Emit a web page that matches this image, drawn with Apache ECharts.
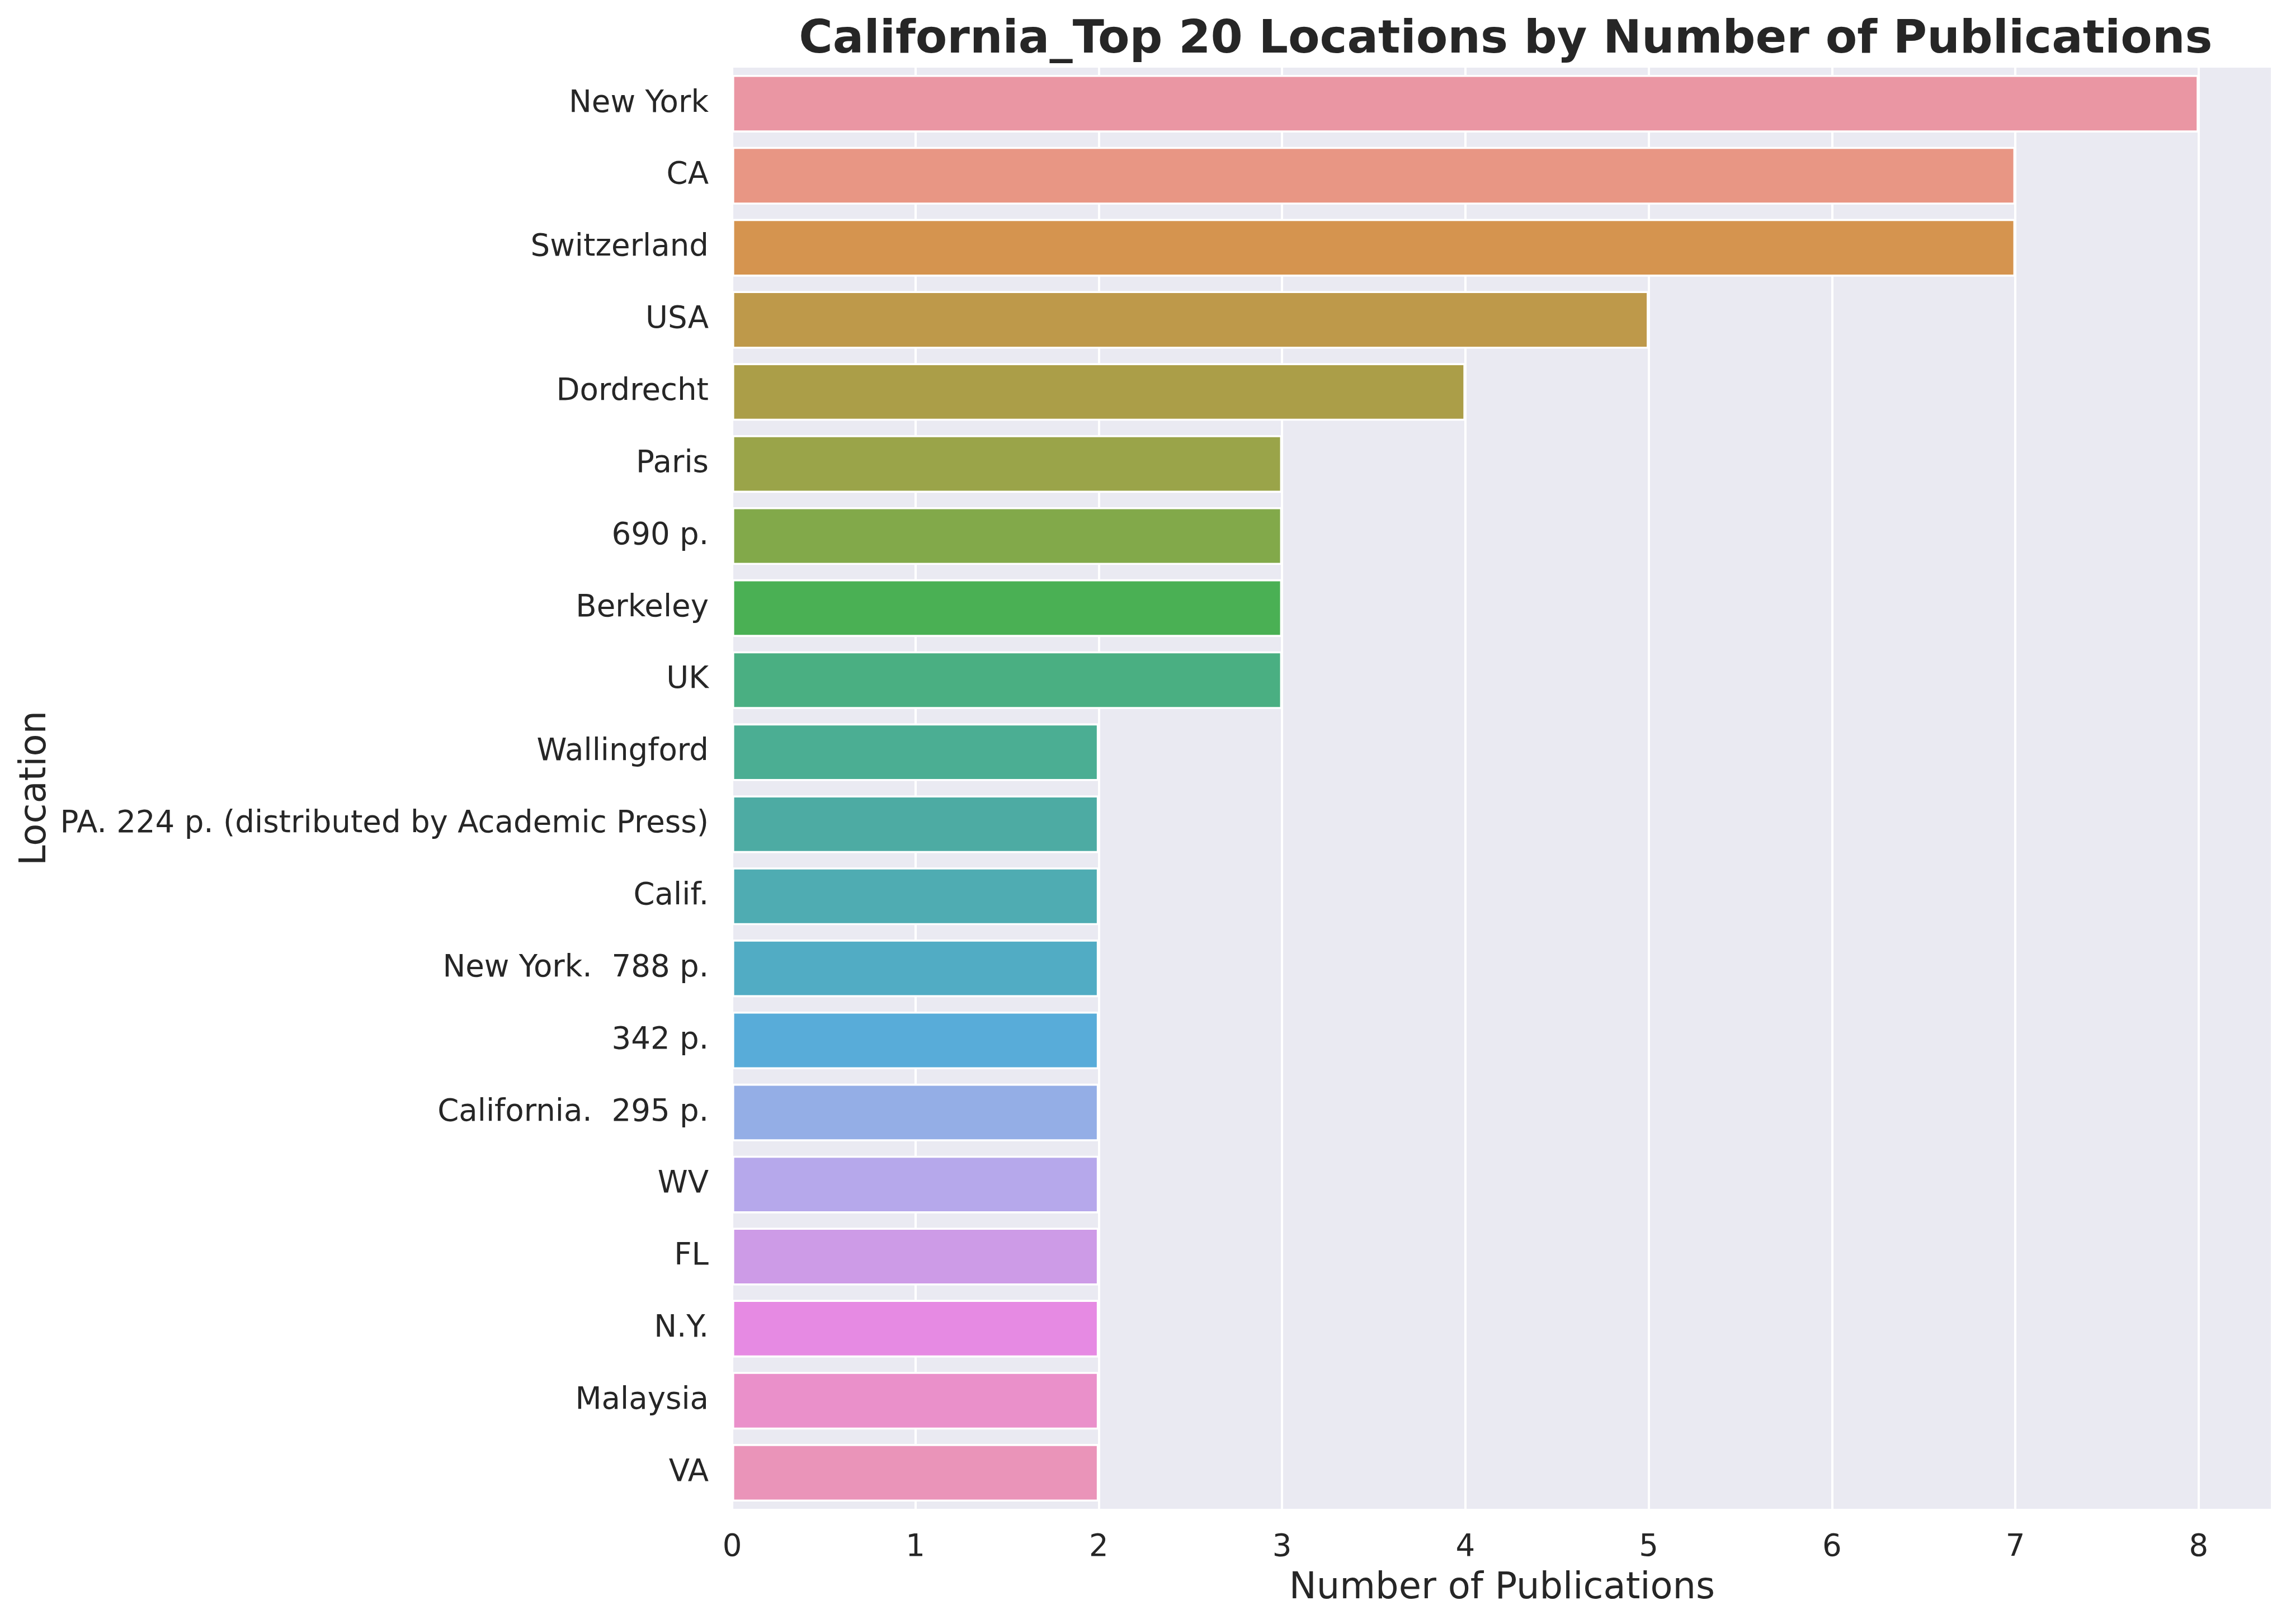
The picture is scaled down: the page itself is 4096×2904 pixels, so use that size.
<!DOCTYPE html>
<html>
<head>
<meta charset="utf-8">
<script src="https://cdn.jsdelivr.net/npm/echarts@6/dist/echarts.min.js"></script>
<style>
html,body{margin:0;padding:0;background:#ffffff;}
#chart{width:4096px;height:2904px;}
</style>
</head>
<body>
<div id="chart"></div>
<script>
var categories = ['New York','CA','Switzerland','USA','Dordrecht','Paris','690 p.','Berkeley','UK','Wallingford','PA. 224 p. (distributed by Academic Press)','Calif.','New York.  788 p.','342 p.','California.  295 p.','WV','FL','N.Y.','Malaysia','VA'];
var values = [8,7,7,5,4,3,3,3,3,2,2,2,2,2,2,2,2,2,2,2];
var xTicks = [0,1,2,3,4,5,6,7,8];
var palette = ['#EA96A3','#E89684','#D5944F','#BE994A','#AB9E48','#9AA449','#82A94A','#4AB054','#4AAF82','#4BAE93','#4DABA3','#4FACB2','#51ACC4','#58ACD9','#94AEE6','#B6A8EB','#CD9BE7','#E68AE3','#EA90CA','#EA94B9'];
var titleText = 'California_Top 20 Locations by Number of Publications';
var xName = 'Number of Publications';
var yName = 'Location';

var FONT = 'DejaVu Sans';
var TXT = '#262626';
var chart = echarts.init(document.getElementById('chart'), null, {renderer:'canvas'});
var option = {
  backgroundColor: '#ffffff',
  animation: false,
  color: palette,
  title: {
    text: titleText,
    left: 2687,
    top: 27,
    textAlign: 'center',
    textStyle: {fontFamily: FONT, fontWeight: 'bold', fontSize: 82.4, lineHeight: 82, color: TXT}
  },
  grid: {left: 1309, right: 34, top: 121, bottom: 206, show: true, backgroundColor: '#EAEAF2', borderWidth: 0},
  xAxis: {
    type: 'value',
    min: 0,
    max: 8.4,
    interval: 1,
    name: xName,
    nameLocation: 'middle',
    nameGap: 110,
    nameTextStyle: {fontFamily: FONT, fontSize: 65.5, color: TXT},
    axisLine: {show: false},
    axisTick: {show: false},
    axisLabel: {
      fontFamily: FONT, fontSize: 54.6, color: TXT, margin: 42,
      formatter: function (v) { return xTicks.indexOf(v) >= 0 ? String(v) : ''; }
    },
    splitLine: {show: true, lineStyle: {color: '#ffffff', width: 4}}
  },
  yAxis: {
    type: 'category',
    data: categories,
    inverse: true,
    name: yName,
    nameLocation: 'middle',
    nameRotate: 90,
    nameGap: 1211,
    nameTextStyle: {fontFamily: FONT, fontSize: 65.5, color: TXT},
    axisLine: {show: false},
    axisTick: {show: false},
    axisLabel: {fontFamily: FONT, fontSize: 54.6, color: TXT, margin: 42},
    splitLine: {show: false}
  },
  series: [{
    type: 'bar',
    data: values,
    colorBy: 'data',
    barWidth: '80%',
    itemStyle: {borderColor: '#ffffff', borderWidth: 3.6}
  }]
};
chart.setOption(option);
</script>
</body>
</html>
